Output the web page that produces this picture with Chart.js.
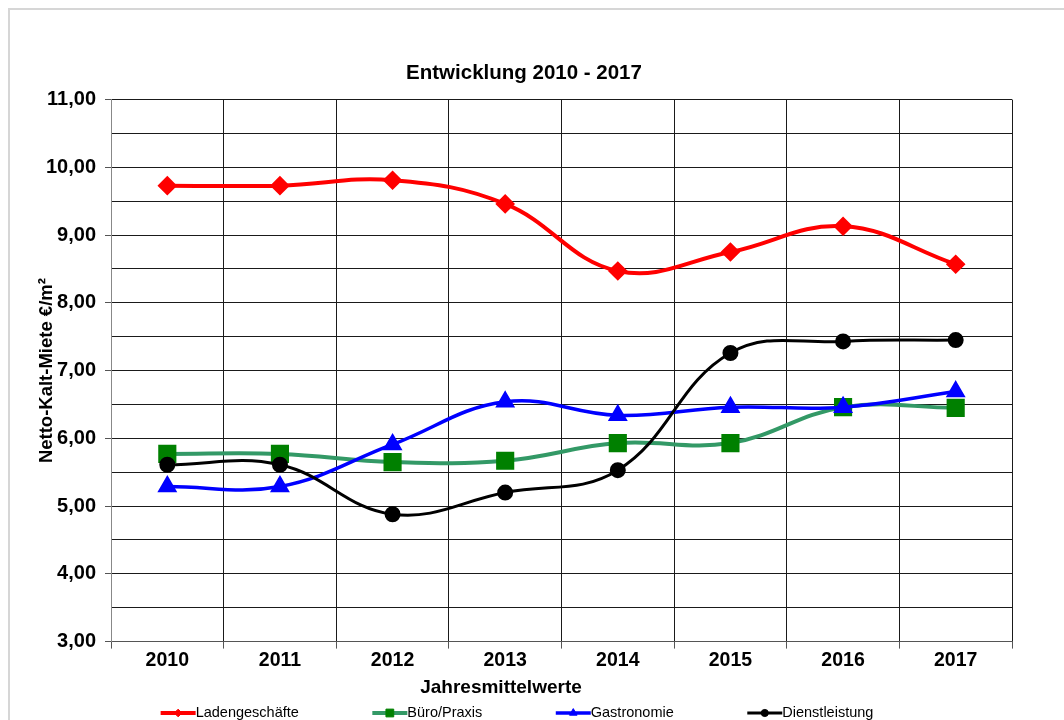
<!DOCTYPE html>
<html>
<head>
<meta charset="utf-8">
<script src="https://cdn.jsdelivr.net/npm/chart.js@4"></script>
<style>
  html, body { margin: 0; padding: 0; background: #fff; }
</style>
</head>
<body>
<canvas id="chart" width="1064" height="720"></canvas>
<script>
// === Daten ===
const jahre = ['2010', '2011', '2012', '2013', '2014', '2015', '2016', '2017'];
const ladengeschaefte = [9.73, 9.73, 9.81, 9.46, 8.47, 8.75, 9.13, 8.57];
const bueroPraxis     = [5.77, 5.77, 5.65, 5.67, 5.93, 5.93, 6.46, 6.45];
const gastronomie     = [5.29, 5.29, 5.91, 6.54, 6.34, 6.46, 6.46, 6.69];
const dienstleistung  = [5.61, 5.61, 4.88, 5.20, 5.53, 7.26, 7.43, 7.45];
const xTitel = 'Jahresmittelwerte';

const schrift = '"Liberation Sans", Arial, sans-serif';

// grauer Rahmen oben/links
const rahmen = {
  id: 'rahmen',
  beforeDraw(chart) {
    const ctx = chart.ctx;
    ctx.save();
    ctx.strokeStyle = '#d6d6d6';
    ctx.lineWidth = 2;
    ctx.strokeRect(9, 9, 1200, 900);
    ctx.restore();
  }
};

// x-Achsentitel (wie im Original leicht links der Mitte) + Legende unten
const legendeUnten = {
  id: 'legendeUnten',
  afterDraw(chart) {
    const ctx = chart.ctx;
    const sets = chart.data.datasets;
    ctx.save();
    ctx.fillStyle = '#000';
    ctx.textBaseline = 'middle';
    ctx.textAlign = 'center';
    ctx.font = 'bold 19px ' + schrift;
    ctx.fillText(xTitel, 501, 688);

    ctx.font = '14.5px ' + schrift;
    ctx.textAlign = 'left';
    const lineW = 35, gap = 73.5;
    const widths = sets.map(d => lineW + ctx.measureText(d.label).width);
    const total = widths.reduce((a, b) => a + b, 0) + gap * (sets.length - 1);
    let x = 517 - total / 2;
    const y = 713;
    sets.forEach((d, i) => {
      ctx.strokeStyle = d.borderColor;
      ctx.lineWidth = d.borderWidth;
      ctx.beginPath();
      ctx.moveTo(x, y);
      ctx.lineTo(x + lineW, y);
      ctx.stroke();
      ctx.fillStyle = d.pointBackgroundColor;
      ctx.strokeStyle = d.pointBorderColor;
      ctx.lineWidth = 1;
      Chart.helpers.drawPoint(ctx, { pointStyle: d.pointStyle, radius: d.pointRadius * 0.55, rotation: 0, borderWidth: 1 }, x + lineW / 2, y);
      ctx.fillStyle = '#000';
      ctx.fillText(d.label, x + lineW, y);
      x += widths[i] + gap;
    });
    ctx.restore();
  }
};

new Chart(document.getElementById('chart'), {
  type: 'line',
  data: {
    labels: jahre,
    datasets: [
      {
        label: 'Ladengeschäfte', data: ladengeschaefte, order: 4,
        borderColor: '#ff0000', borderWidth: 4,
        pointStyle: 'rectRot', pointRadius: 7,
        pointBackgroundColor: '#ff0000', pointBorderColor: '#ff0000'
      },
      {
        label: 'Büro/Praxis', data: bueroPraxis, order: 3,
        borderColor: '#339966', borderWidth: 4,
        pointStyle: 'rect', pointRadius: 10,
        pointBackgroundColor: '#008000', pointBorderColor: '#008000'
      },
      {
        label: 'Gastronomie', data: gastronomie, order: 2,
        borderColor: '#0000ff', borderWidth: 3.5,
        pointStyle: 'triangle', pointRadius: 8,
        pointBackgroundColor: '#0000ff', pointBorderColor: '#0000ff'
      },
      {
        label: 'Dienstleistung', data: dienstleistung, order: 1,
        borderColor: '#000000', borderWidth: 3,
        pointStyle: 'circle', pointRadius: 6.5,
        pointBackgroundColor: '#000000', pointBorderColor: '#000000'
      }
    ]
  },
  options: {
    responsive: false,
    animation: false,
    elements: { line: { tension: 0.4 }, point: { borderWidth: 1, hoverRadius: 7 } },
    layout: { padding: { top: 50, left: 36, right: 52, bottom: 48 } },
    plugins: {
      legend: { display: false },
      tooltip: { enabled: false },
      title: {
        display: true,
        text: 'Entwicklung 2010 - 2017',
        color: '#000',
        font: { family: schrift, size: 20.5, weight: 'bold' },
        padding: { top: 11, bottom: 14 }
      }
    },
    scales: {
      x: {
        offset: true,
        grid: { offset: true, color: '#1a1a1a', lineWidth: 1, tickLength: 7, tickColor: '#555' },
        border: { color: '#555', width: 1 },
        ticks: { color: '#000', padding: 0, font: { family: schrift, size: 19.5, weight: 'bold' } }
      },
      y: {
        min: 3, max: 11,
        afterFit: s => { s.width = 75; },
        grid: {
          color: '#1a1a1a', lineWidth: 1, tickLength: 6,
          tickColor: c => (c.tick && Number.isInteger(c.tick.value)) ? '#555' : 'rgba(0,0,0,0)'
        },
        border: { color: '#888', width: 1 },
        ticks: {
          stepSize: 0.5, color: '#000', padding: 9,
          font: { family: schrift, size: 20, weight: 'bold' },
          callback: v => Number.isInteger(v) ? v.toFixed(2).replace('.', ',') : ''
        },
        title: {
          display: true, text: 'Netto-Kalt-Miete €/m²', color: '#000',
          font: { family: schrift, size: 18.5, weight: 'bold' },
          padding: { top: 0, bottom: 0 }
        }
      }
    }
  },
  plugins: [rahmen, legendeUnten]
});
</script>
</body>
</html>
